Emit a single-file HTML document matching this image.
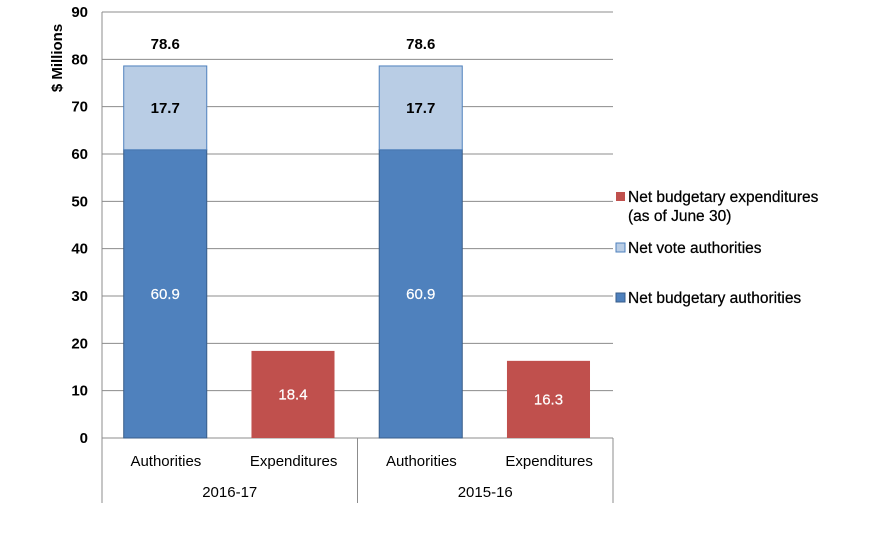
<!DOCTYPE html>
<html><head><meta charset="utf-8"><style>
body{margin:0;background:#fff}
svg{display:block;font-family:"Liberation Sans",sans-serif}
</style></head><body>
<svg id="c" width="882" height="554"></svg>
<script>
const ticks=[0,10,20,30,40,50,60,70,80,90];
const groups=["2016-17","2015-16"];
const cats=["Authorities","Expenditures","Authorities","Expenditures"];
const budgetary=[60.9,0,60.9,0];
const vote=[17.7,0,17.7,0];
const expend=[0,18.4,0,16.3];
const totals=[78.6,null,78.6,null];
const NS="http://www.w3.org/2000/svg";
const svg=document.getElementById('c');
const L=102,R=613,Y0=438,Y1=12,MAX=90;
const y=v=>Y0-v*(Y0-Y1)/MAX;
const bw=(R-L)/cats.length;
const x=i=>L+bw*i+bw*0.17;
const W=bw*0.65;
function el(t,a,txt){const e=document.createElementNS(NS,t);for(const k in a)e.setAttribute(k,a[k]);if(txt!=null)e.textContent=txt;svg.appendChild(e);return e;}
ticks.forEach(t=>{
 const g=el('line',{x1:L,x2:R,y1:y(t),y2:y(t),stroke:'#8c8c8c','stroke-width':1});
 
 
 const tx=el('text',{x:L-14,y:y(t)+5,'text-anchor':'end','font-size':15,'font-weight':'bold'},t);
 
 
});
const ya=el('line',{x1:L,x2:L,y1:Y1,y2:503,stroke:'#8c8c8c'});


[L+bw*2,R].forEach(xx=>{const s=el('line',{x1:xx,x2:xx,y1:Y0,y2:503,stroke:'#8c8c8c'});
 
 });
const yt=el('text',{transform:'translate(62,58) rotate(-90)','text-anchor':'middle','font-size':15,'font-weight':'bold'},'$ Millions');


cats.forEach((c,i)=>{
 const xi=x(i);
 if(budgetary[i]>0){
  const r=el('rect',{x:xi,y:y(budgetary[i]),width:W,height:Y0-y(budgetary[i]),fill:'#4f81bd',stroke:'#385d8a'});
  
  
  const t=el('text',{x:xi+W/2,y:y(budgetary[i]/2)+5,'text-anchor':'middle','font-size':15,fill:'#fff',stroke:'#fff','stroke-width':0.2},budgetary[i].toFixed(1));
  
  
 }
 if(vote[i]>0){
  const b=budgetary[i];
  const r=el('rect',{x:xi,y:y(b+vote[i]),width:W,height:y(b)-y(b+vote[i]),fill:'#b9cde5',stroke:'#4f81bd'});
  
  
  const t=el('text',{x:xi+W/2,y:y(b+vote[i]/2)+5,'text-anchor':'middle','font-size':15,'font-weight':'bold'},vote[i].toFixed(1));
  
  
 }
 if(expend[i]>0){
  const r=el('rect',{x:xi,y:y(expend[i]),width:W,height:Y0-y(expend[i]),fill:'#c0504d'});
  
  
  const t=el('text',{x:xi+W/2,y:y(expend[i]/2)+5,'text-anchor':'middle','font-size':15,fill:'#fff',stroke:'#fff','stroke-width':0.2},expend[i].toFixed(1));
  
  
 }
 if(totals[i]!=null){
  const t=el('text',{x:xi+W/2,y:y(totals[i])-17,'text-anchor':'middle','font-size':15,'font-weight':'bold'},totals[i].toFixed(1));
  
  
 }
 const cl=el('text',{x:L+bw*i+bw/2,y:466,'text-anchor':'middle','font-size':15},c);
 
 
});
groups.forEach((g,i)=>{
 const t=el('text',{x:L+bw*2*i+bw,y:497,'text-anchor':'middle','font-size':15},g);
 
 
});
const leg=[["#c0504d",null,["Net budgetary expenditures","(as of June 30)"],202],["#b9cde5","#4f81bd",["Net vote authorities"],253],["#4f81bd","#385d8a",["Net budgetary authorities"],303]];
leg.forEach(l=>{
 const r=el('rect',{x:616,y:l[3]-10,width:9,height:9,fill:l[0],stroke:l[1]||'none'});
 
 
 l[2].forEach((s,j)=>{
  const t=el('text',{x:628,y:l[3]+j*19,'font-size':15.5,stroke:'#000','stroke-width':0.25},s);
  
  
 });
});
</script>
</body></html>
